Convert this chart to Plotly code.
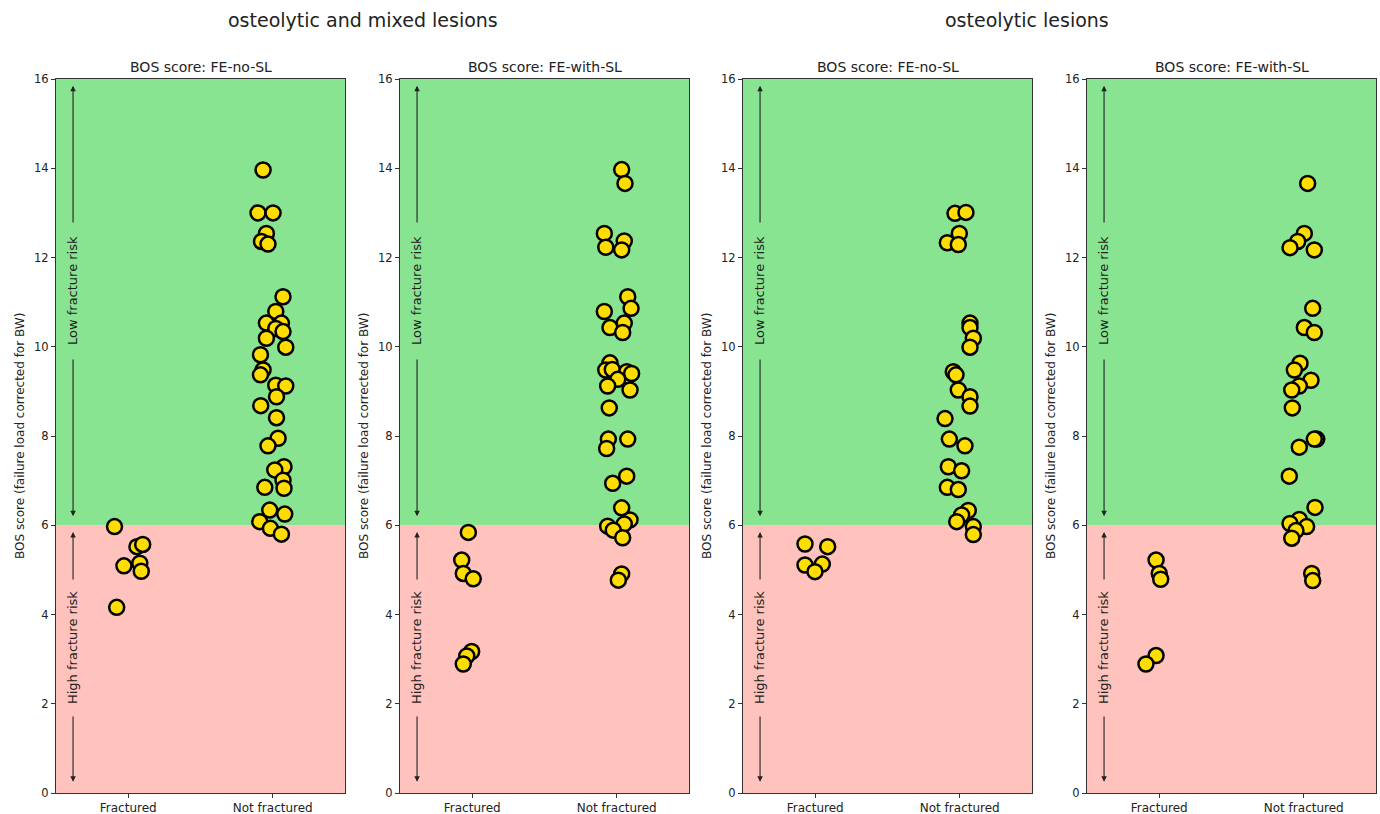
import plotly.graph_objects as go

# ---------------- data ----------------
categories = ["Fractured", "Not fractured"]
panel_titles = ["BOS score: FE-no-SL", "BOS score: FE-with-SL",
                "BOS score: FE-no-SL", "BOS score: FE-with-SL"]
group_titles = ["osteolytic and mixed lesions", "osteolytic lesions"]
y_ticks = [0, 2, 4, 6, 8, 10, 12, 14, 16]
threshold = 6
y_max = 16

# panel 1: osteolytic and mixed, FE-no-SL
p1_frac_y = [5.97, 5.52, 5.57, 5.09, 5.15, 4.97, 4.16]
p1_frac_jit = [-0.095, 0.06, 0.10, -0.03, 0.08, 0.09, -0.08]
p1_nf_y = [13.96, 13.00, 13.00, 12.54, 12.36, 12.30, 11.12, 10.79, 10.53, 10.53,
           10.41, 10.34, 10.19, 9.99, 9.82, 9.48, 9.37, 9.14, 9.12, 8.88,
           8.68, 8.41, 7.95, 7.78, 7.31, 7.24, 7.01, 6.85, 6.83, 6.34,
           6.25, 6.08, 5.93, 5.80]
p1_nf_jit = [-0.067, -0.102, 0.002, -0.044, -0.078, -0.033, 0.071, 0.021, -0.044, 0.060,
             0.021, 0.071, -0.044, 0.090, -0.085, -0.067, -0.085, 0.021, 0.090, 0.026,
             -0.083, 0.026, 0.037, -0.033, 0.078, 0.014, 0.071, -0.055, 0.078, -0.021,
             0.083, -0.090, -0.016, 0.060]

# panel 2: osteolytic and mixed, FE-with-SL
p2_frac_y = [5.84, 5.22, 4.92, 4.80, 3.17, 3.07, 2.89]
p2_frac_jit = [-0.027, -0.073, -0.062, 0.007, -0.004, -0.038, -0.062]
p2_nf_y = [13.97, 13.66, 12.54, 12.23, 12.37, 12.17, 11.12, 10.86, 10.79, 10.53,
           10.43, 10.32, 9.64, 9.48, 9.49, 9.44, 9.40, 9.27, 9.12, 9.03,
           8.63, 7.93, 7.72, 7.93, 7.10, 6.94, 6.39, 6.12, 6.03, 5.98,
           5.89, 5.72, 4.91, 4.77]
p2_nf_jit = [0.034, 0.057, -0.086, -0.076, 0.052, 0.034, 0.076, 0.099, -0.086, 0.052,
             -0.047, 0.041, -0.047, -0.076, -0.031, 0.069, 0.103, 0.007, -0.063, 0.092,
             -0.052, -0.058, -0.070, 0.076, 0.069, -0.028, 0.034, 0.092, 0.052, -0.063,
             -0.024, 0.041, 0.034, 0.011]

# panel 3: osteolytic, FE-no-SL
p3_frac_y = [5.58, 5.52, 5.11, 5.13, 4.96]
p3_frac_jit = [-0.071, 0.086, -0.071, 0.049, -0.002]
p3_nf_y = [12.99, 13.01, 12.54, 12.33, 12.29, 10.53, 10.43, 10.19, 9.99, 9.44,
           9.37, 9.03, 8.88, 8.67, 8.39, 7.93, 7.78, 7.31, 7.22, 6.85,
           6.80, 6.33, 6.23, 6.08, 5.97, 5.79]
p3_nf_jit = [-0.033, 0.043, -0.003, -0.086, -0.010, 0.071, 0.071, 0.094, 0.071, -0.045,
             -0.026, -0.010, 0.071, 0.071, -0.102, -0.072, 0.036, -0.079, 0.013, -0.086,
             -0.010, 0.059, 0.013, -0.021, 0.094, 0.094]

# panel 4: osteolytic, FE-with-SL
p4_frac_y = [5.22, 4.92, 4.79, 3.08, 2.89]
p4_frac_jit = [-0.022, 0.000, 0.010, -0.022, -0.092]
p4_nf_y = [13.66, 12.54, 12.36, 12.22, 12.17, 10.86, 10.43, 10.32, 9.63, 9.48,
           9.25, 9.12, 9.03, 8.63, 7.93, 7.93, 7.75, 7.10, 6.40, 6.13,
           6.04, 5.97, 5.88, 5.71, 4.92, 4.76]
p4_nf_jit = [0.027, 0.004, -0.042, -0.095, 0.073, 0.062, 0.004, 0.073, -0.026, -0.065,
             0.050, -0.031, -0.083, -0.079, 0.090, 0.073, -0.031, -0.100, 0.078, -0.031,
             -0.095, 0.020, -0.054, -0.083, 0.055, 0.062]

panels = [
    (p1_frac_y, p1_frac_jit, p1_nf_y, p1_nf_jit),
    (p2_frac_y, p2_frac_jit, p2_nf_y, p2_nf_jit),
    (p3_frac_y, p3_frac_jit, p3_nf_y, p3_nf_jit),
    (p4_frac_y, p4_frac_jit, p4_nf_y, p4_nf_jit),
]

# ---------------- layout ----------------
W, H = 1380, 814
panel_px = [(56, 345), (400, 689), (743, 1032), (1087, 1376)]
top_px, bot_px = 79, 793
y_dom = [1 - bot_px / H, 1 - top_px / H]

GREEN = "#89E491"
PINK = "#FFC2BC"
FONT = "DejaVu Sans"

fig = go.Figure()
shapes = []
annotations = []

for i, (fy, fj, ny, nj) in enumerate(panels):
    n = i + 1
    xs = "x" if n == 1 else f"x{n}"
    ys = "y" if n == 1 else f"y{n}"
    xa = "xaxis" if n == 1 else f"xaxis{n}"
    ya = "yaxis" if n == 1 else f"yaxis{n}"
    x0p, x1p = panel_px[i]

    xvals = [0 + j for j in fj] + [1 + j for j in nj]
    yvals = list(fy) + list(ny)
    fig.add_trace(go.Scatter(
        x=xvals, y=yvals, mode="markers", xaxis=xs, yaxis=ys,
        marker=dict(size=15, color="#FFDD00", line=dict(color="black", width=2.5)),
        showlegend=False, hoverinfo="y"))

    fig.layout[xa] = dict(
        domain=[x0p / W, x1p / W], range=[-0.5, 1.5], anchor=ys,
        tickvals=[0, 1], ticktext=categories, ticks="outside", ticklen=4,
        tickcolor="#333", showline=True, linecolor="#333", linewidth=1, mirror=True,
        showgrid=False, zeroline=False, fixedrange=True, automargin=False,
        tickfont=dict(family=FONT, size=12, color="#222"))
    fig.layout[ya] = dict(
        domain=y_dom, range=[0, y_max], anchor=xs,
        tickvals=y_ticks, ticks="outside", ticklen=4, tickcolor="#333",
        showline=True, linecolor="#333", linewidth=1, mirror=True,
        showgrid=False, zeroline=False, fixedrange=True, automargin=False,
        tickfont=dict(family=FONT, size=11.5, color="#222"))

    xref_d = f"{xs} domain"
    shapes.append(dict(type="rect", xref=xref_d, yref=ys, x0=0, x1=1, y0=0, y1=threshold,
                       fillcolor=PINK, line=dict(width=0), layer="below"))
    shapes.append(dict(type="rect", xref=xref_d, yref=ys, x0=0, x1=1, y0=threshold, y1=y_max,
                       fillcolor=GREEN, line=dict(width=0), layer="below"))

    ax_x = -0.382
    # arrows (head, tail)
    for head, tail in [(15.85, 12.75), (6.2, 9.75), (5.85, 4.75), (0.25, 1.75)]:
        annotations.append(dict(x=ax_x, y=head, ax=ax_x, ay=tail, xref=xs, yref=ys,
                                axref=xs, ayref=ys, text="", showarrow=True,
                                arrowhead=2, arrowsize=1, arrowwidth=1.1,
                                arrowcolor="#222"))
    annotations.append(dict(x=ax_x, y=11.25, xref=xs, yref=ys, text="Low fracture risk",
                            showarrow=False, textangle=-90,
                            xanchor="center", yanchor="middle",
                            font=dict(family=FONT, size=13, color="#222")))
    annotations.append(dict(x=ax_x, y=3.25, xref=xs, yref=ys, text="High fracture risk",
                            showarrow=False, textangle=-90,
                            xanchor="center", yanchor="middle",
                            font=dict(family=FONT, size=13, color="#222")))
    # panel title
    annotations.append(dict(x=(x0p + x1p) / 2 / W, y=1 - 67 / H, xref="paper", yref="paper",
                            text=panel_titles[i], showarrow=False,
                            xanchor="center", yanchor="middle",
                            font=dict(family=FONT, size=14, color="#222")))
    # y-axis title
    annotations.append(dict(x=(x0p - 36) / W, y=(y_dom[0] + y_dom[1]) / 2,
                            xref="paper", yref="paper",
                            text="BOS score (failure load corrected for BW)",
                            showarrow=False, textangle=-90,
                            xanchor="center", yanchor="middle",
                            font=dict(family=FONT, size=12, color="#222")))

annotations.append(dict(x=363 / W, y=1 - 20 / H, xref="paper", yref="paper",
                        text=group_titles[0], showarrow=False,
                        xanchor="center", yanchor="middle",
                        font=dict(family=FONT, size=19, color="#222")))
annotations.append(dict(x=1027 / W, y=1 - 20 / H, xref="paper", yref="paper",
                        text=group_titles[1], showarrow=False,
                        xanchor="center", yanchor="middle",
                        font=dict(family=FONT, size=19, color="#222")))

fig.update_layout(
    width=W, height=H, margin=dict(l=0, r=0, t=0, b=0, pad=0),
    paper_bgcolor="white", plot_bgcolor="white",
    shapes=shapes, annotations=annotations, showlegend=False)

fig.write_html("out.html", config={"displayModeBar": False},
               post_script="document.body.style.margin='0';")
